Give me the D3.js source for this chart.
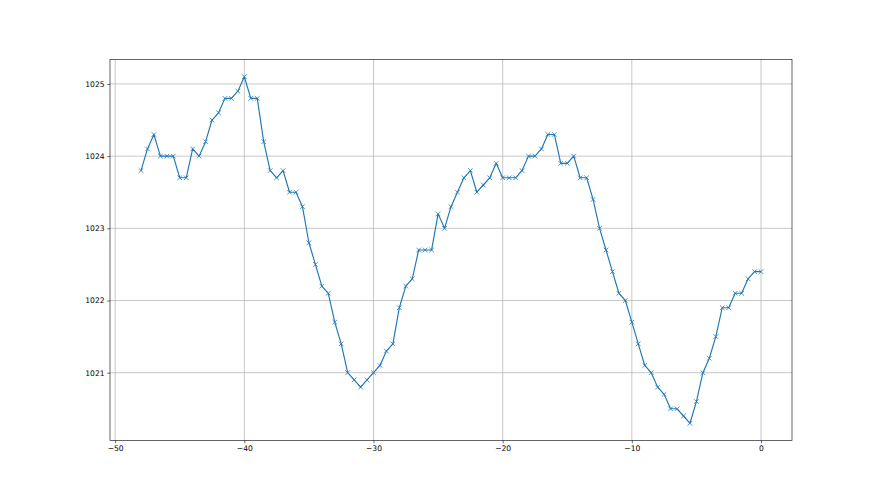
<!DOCTYPE html>
<html>
<head>
<meta charset="utf-8">
<script src="https://cdn.jsdelivr.net/npm/d3@7"></script>
<style>
  html, body { margin: 0; padding: 0; background: #fff; }
  svg { display: block; }
  .tick text { font-family: "DejaVu Sans", sans-serif; font-size: 7.6px; fill: #000; }
</style>
</head>
<body>
<svg id="chart" width="880" height="495"></svg>
<script>
const hours = [];
for (let i = 0; i <= 96; i++) hours.push(-48 + i * 0.5);
const pressure = [
  1023.8, 1024.1, 1024.3, 1024.0, 1024.0, 1024.0, 1023.7, 1023.7, 1024.1, 1024.0,
  1024.2, 1024.5, 1024.6, 1024.8, 1024.8, 1024.9, 1025.1, 1024.8, 1024.8, 1024.2,
  1023.8, 1023.7, 1023.8, 1023.5, 1023.5, 1023.3, 1022.8, 1022.5, 1022.2, 1022.1,
  1021.7, 1021.4, 1021.0, 1020.9, 1020.8, 1020.9, 1021.0, 1021.1, 1021.3, 1021.4,
  1021.9, 1022.2, 1022.3, 1022.7, 1022.7, 1022.7, 1023.2, 1023.0, 1023.3, 1023.5,
  1023.7, 1023.8, 1023.5, 1023.6, 1023.7, 1023.9, 1023.7, 1023.7, 1023.7, 1023.8,
  1024.0, 1024.0, 1024.1, 1024.3, 1024.3, 1023.9, 1023.9, 1024.0, 1023.7, 1023.7,
  1023.4, 1023.0, 1022.7, 1022.4, 1022.1, 1022.0, 1021.7, 1021.4, 1021.1, 1021.0,
  1020.8, 1020.7, 1020.5, 1020.5, 1020.4, 1020.3, 1020.6, 1021.0, 1021.2, 1021.5,
  1021.9, 1021.9, 1022.1, 1022.1, 1022.3, 1022.4, 1022.4
];
const xTicks = [-50, -40, -30, -20, -10, 0];
const yTicks = [1021, 1022, 1023, 1024, 1025];

(function () {
const W = 880, H = 495;
const pl = 0.125 * W, pr = 0.9 * W, pt = 0.12 * H, pb = 0.89 * H;
const svg = d3.select("#chart");

const xMin = d3.min(hours), xMax = d3.max(hours);
const yMin = d3.min(pressure), yMax = d3.max(pressure);
const xPad = (xMax - xMin) * 0.05, yPad = (yMax - yMin) * 0.05;

const x = d3.scaleLinear().domain([xMin - xPad, xMax + xPad]).range([pl, pr]);
const y = d3.scaleLinear().domain([yMin - yPad, yMax + yPad]).range([pb, pt]);

const fmtMinus = d => (d < 0 ? "\u2212" + Math.abs(d) : String(d));

// grid
const grid = svg.append("g");
grid.selectAll(".vg").data(xTicks).join("line")
  .attr("x1", d => x(d)).attr("x2", d => x(d)).attr("y1", pt).attr("y2", pb)
  .attr("stroke", "#b0b0b0").attr("stroke-width", 0.7);
grid.selectAll(".hg").data(yTicks).join("line")
  .attr("x1", pl).attr("x2", pr).attr("y1", d => y(d)).attr("y2", d => y(d))
  .attr("stroke", "#b0b0b0").attr("stroke-width", 0.7);

// line
const line = d3.line().x((d, i) => x(hours[i])).y(d => y(d));
svg.append("path").datum(pressure)
  .attr("d", line).attr("fill", "none")
  .attr("stroke", "#1f77b4").attr("stroke-width", 1.15).attr("stroke-linejoin", "round");

// markers
const ms = 2.3;
svg.append("g").selectAll("path").data(pressure).join("path")
  .attr("d", (d, i) => {
    const cx = x(hours[i]), cy = y(d);
    return `M${cx - ms},${cy - ms}L${cx + ms},${cy + ms}M${cx - ms},${cy + ms}L${cx + ms},${cy - ms}`;
  })
  .attr("stroke", "#1f77b4").attr("stroke-width", 0.8).attr("fill", "none");

// axes
const xAxis = d3.axisBottom(x).tickValues(xTicks).tickFormat(fmtMinus).tickSizeInner(2.7).tickSizeOuter(0).tickPadding(2.7);
const yAxis = d3.axisLeft(y).tickValues(yTicks).tickFormat(d => String(d)).tickSizeInner(2.7).tickSizeOuter(0).tickPadding(2.7);
const gx = svg.append("g").attr("transform", `translate(0,${pb})`).call(xAxis);
const gy = svg.append("g").attr("transform", `translate(${pl},0)`).call(yAxis);
[gx, gy].forEach(g => {
  g.select(".domain").remove();
  g.selectAll(".tick line").attr("stroke", "#000").attr("stroke-width", 0.6);
});

// spines
svg.append("rect").attr("x", pl).attr("y", pt).attr("width", pr - pl).attr("height", pb - pt)
  .attr("fill", "none").attr("stroke", "#000").attr("stroke-width", 0.6);
})();
</script>
</body>
</html>
